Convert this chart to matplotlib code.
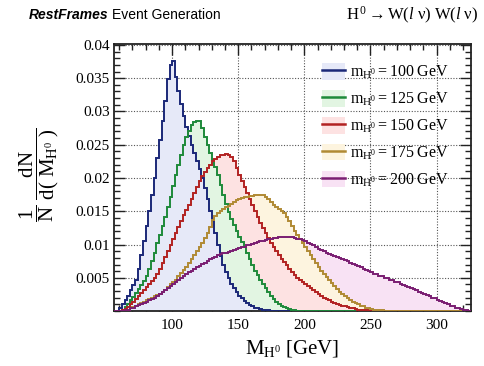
import numpy as np
import matplotlib
matplotlib.use("Agg")
import matplotlib.pyplot as plt
from matplotlib.patches import Patch
from matplotlib.lines import Line2D
from matplotlib.ticker import MultipleLocator

plt.rcParams['mathtext.fontset'] = 'custom'
plt.rcParams['mathtext.rm'] = 'Liberation Serif'
plt.rcParams['mathtext.it'] = 'Liberation Serif:italic'
plt.rcParams['mathtext.bf'] = 'Liberation Serif:bold'

x_min, x_max, n_bins = 56, 326, 135

masses = [100, 125, 150, 175, 200]

# bin contents, 2 GeV bins starting at 56 GeV (trailing bins are empty)
h100 = [0, 0, 0.0004, 0.0011, 0.0017, 0.0023, 0.0031, 0.0039, 0.0047, 0.0063,
        0.0085, 0.0105, 0.0128, 0.0150, 0.0175, 0.0200, 0.0230, 0.0257, 0.0285, 0.0316,
        0.0348, 0.0370, 0.0376, 0.0352, 0.0330, 0.0311, 0.0293, 0.0277, 0.0263, 0.0250,
        0.0238, 0.0226, 0.0213, 0.0200, 0.0185, 0.0168, 0.0151, 0.0135, 0.0117, 0.0100,
        0.0083, 0.0069, 0.0058, 0.0049, 0.0041, 0.0034, 0.0028, 0.0023, 0.0019, 0.0015,
        0.0012, 0.0009, 0.0007, 0.0005, 0.0004, 0.0003, 0.0002, 0.00015, 0.0001, 0.00005]

h125 = [0, 0, 0, 0.0002, 0.0006, 0.0011, 0.0016, 0.0021, 0.0027, 0.0033,
        0.0039, 0.0045, 0.0053, 0.0063, 0.0075, 0.0088, 0.0102, 0.0115, 0.0128, 0.0142,
        0.0156, 0.0172, 0.0188, 0.0205, 0.0220, 0.0235, 0.0249, 0.0261, 0.0271, 0.0279,
        0.0284, 0.0286, 0.0285, 0.0275, 0.0262, 0.0250, 0.0238, 0.0227, 0.0216, 0.0204,
        0.0190, 0.0175, 0.0161, 0.0149, 0.0139, 0.0130, 0.0121, 0.0112, 0.0104, 0.0096,
        0.0087, 0.0078, 0.0069, 0.0061, 0.0054, 0.0047, 0.0040, 0.0034, 0.0028, 0.0023,
        0.0018, 0.0014, 0.0011, 0.0008, 0.0006, 0.0004, 0.0003, 0.0002, 0.0001, 0.00005]

h150 = [0, 0, 0, 0.0001, 0.0003, 0.0006, 0.0010, 0.0014, 0.0018, 0.0023,
        0.0027, 0.0032, 0.0036, 0.0041, 0.0045, 0.0050, 0.0056, 0.0064, 0.0073, 0.0082,
        0.0091, 0.0100, 0.0108, 0.0117, 0.0126, 0.0135, 0.0144, 0.0152, 0.0160, 0.0168,
        0.0177, 0.0186, 0.0195, 0.0203, 0.0209, 0.0215, 0.0220, 0.0225, 0.0229, 0.0232,
        0.0234, 0.0235, 0.0236, 0.0235, 0.0232, 0.0225, 0.0215, 0.0205, 0.0196, 0.0187,
        0.0178, 0.0168, 0.0159, 0.0150, 0.0141, 0.0133, 0.0125, 0.0117, 0.0110, 0.0102,
        0.0096, 0.0090, 0.0084, 0.0079, 0.0074, 0.0069, 0.0064, 0.0059, 0.0054, 0.0050,
        0.0046, 0.0043, 0.0040, 0.0037, 0.0034, 0.0031, 0.0028, 0.0025, 0.0022, 0.0020,
        0.0018, 0.0016, 0.0014, 0.0012, 0.0011, 0.0009, 0.0008, 0.0007, 0.0006, 0.0005,
        0.0004, 0.0003, 0.0002, 0.0002, 0.0001, 0.0001]

h175 = [0, 0, 0, 0, 0.0001, 0.0002, 0.0004, 0.0006, 0.0008, 0.0010,
        0.0012, 0.0014, 0.0016, 0.0018, 0.0020, 0.0022, 0.0024, 0.0026, 0.0029, 0.0032,
        0.0036, 0.0040, 0.0043, 0.0047, 0.0052, 0.0057, 0.0062, 0.0067, 0.0072, 0.0078,
        0.0084, 0.0090, 0.0096, 0.0102, 0.0110, 0.0118, 0.0127, 0.0137, 0.0143, 0.0148,
        0.0151, 0.0154, 0.0156, 0.0158, 0.0161, 0.0164, 0.0167, 0.0169, 0.0170, 0.0171,
        0.0172, 0.0173, 0.0173, 0.0174, 0.0175, 0.0174, 0.0174, 0.0172, 0.0168, 0.0164,
        0.0160, 0.0157, 0.0154, 0.0151, 0.0147, 0.0141, 0.0135, 0.0128, 0.0121, 0.0115,
        0.0108, 0.0102, 0.0096, 0.0090, 0.0084, 0.0078, 0.0072, 0.0066, 0.0061, 0.0056,
        0.0051, 0.0046, 0.0042, 0.0037, 0.0033, 0.0029, 0.0026, 0.0023, 0.0020, 0.0017,
        0.0014, 0.0012, 0.0010, 0.0008, 0.0007, 0.0005, 0.0004, 0.0003, 0.0002, 0.0002,
        0.0001, 0.0001]

h200 = [0, 0, 0, 0, 0.0001, 0.0002, 0.0004, 0.0005, 0.0007, 0.0009,
        0.0010, 0.0012, 0.0014, 0.0016, 0.0018, 0.0020, 0.0022, 0.0025, 0.0028, 0.0031,
        0.0034, 0.0037, 0.0040, 0.0043, 0.0046, 0.0049, 0.0052, 0.0055, 0.0058, 0.0061,
        0.0063, 0.0066, 0.0068, 0.0071, 0.0073, 0.0075, 0.0078, 0.0080, 0.0082, 0.0084,
        0.0086, 0.0087, 0.0088, 0.0089, 0.0090, 0.0092, 0.0093, 0.0095, 0.0096, 0.0097,
        0.0099, 0.0100, 0.0101, 0.0103, 0.0104, 0.0105, 0.0106, 0.0107, 0.0108, 0.0109,
        0.0110, 0.0110, 0.0111, 0.0111, 0.0111, 0.0112, 0.0111, 0.0111, 0.0110, 0.0109,
        0.0108, 0.0107, 0.0105, 0.0103, 0.0101, 0.0099, 0.0097, 0.0094, 0.0092, 0.0090,
        0.0088, 0.0086, 0.0085, 0.0083, 0.0081, 0.0080, 0.0078, 0.0077, 0.0075, 0.0073,
        0.0071, 0.0070, 0.0068, 0.0066, 0.0064, 0.0062, 0.0060, 0.0058, 0.0056, 0.0055,
        0.0053, 0.0052, 0.0050, 0.0049, 0.0047, 0.0046, 0.0044, 0.0043, 0.0041, 0.0039,
        0.0038, 0.0036, 0.0034, 0.0033, 0.0031, 0.0029, 0.0027, 0.0026, 0.0024, 0.0022,
        0.0020, 0.0019, 0.0017, 0.0015, 0.0013, 0.0012, 0.0010, 0.0008, 0.0007, 0.0005,
        0.0004, 0.0003, 0.0002, 0.0001, 0.0]

series = [h100, h125, h150, h175, h200]
line_colors = ['#1b2878', '#1e8a3a', '#b22222', '#b08a34', '#7a1e72']
fill_colors = ['#e6e9f8', '#e2f5e2', '#fde2e2', '#fdf4df', '#f8e2f4']

x_ticks = [100, 150, 200, 250, 300]
y_ticks = [0.005, 0.01, 0.015, 0.02, 0.025, 0.03, 0.035, 0.04]
y_tick_labels = ['0.005', '0.01', '0.015', '0.02', '0.025', '0.03', '0.035', '0.04']

fig = plt.figure(figsize=(4.84, 3.66), dpi=100)
ax = fig.add_axes([0.2355, 0.150, 0.7375, 0.731])

edges = np.linspace(x_min, x_max, n_bins + 1)
padded = [np.array(list(v) + [0.0] * (n_bins - len(v)), dtype=float) for v in series]

# fills: last series first so the narrower distributions sit on top
for vals, fc in reversed(list(zip(padded, fill_colors))):
    ax.stairs(vals, edges, baseline=0, fill=True, color=fc, zorder=1)
handles = []
for vals, lc, fc in zip(padded, line_colors, fill_colors):
    ax.stairs(vals, edges, baseline=None, color=lc, linewidth=1.4, zorder=3)
    handles.append((Patch(facecolor=fc, edgecolor='none'), Line2D([], [], color=lc, lw=1.8)))

ax.set_xlim(x_min, x_max)
ax.set_ylim(0, 0.0402)
ax.set_xticks(x_ticks)
ax.set_xticklabels([str(t) for t in x_ticks])
ax.set_yticks(y_ticks)
ax.set_yticklabels(y_tick_labels)
ax.xaxis.set_minor_locator(MultipleLocator(10))
ax.yaxis.set_minor_locator(MultipleLocator(0.001))
ax.tick_params(which='both', direction='in', top=True, right=True, width=1.0, color='#222222')
ax.tick_params(which='major', length=8)
ax.tick_params(which='minor', length=4)
ax.tick_params(labelsize=11)
for lab in ax.get_xticklabels() + ax.get_yticklabels():
    lab.set_fontfamily('Liberation Serif')
ax.tick_params(axis='x', pad=6)
ax.tick_params(axis='y', pad=3)
for s in ax.spines.values():
    s.set_linewidth(1.3)
    s.set_color('#222222')
ax.grid(True, which='major', linestyle=(0, (1, 1.5)), color='#555555', linewidth=0.8, zorder=0)
ax.set_axisbelow(True)

labels = [r'$\mathrm{m_{H^{0}} = %d\ GeV}$' % m for m in masses]
leg = ax.legend(handles, labels, loc='upper right', frameon=False, fontsize=11.5,
                handlelength=1.4, handleheight=1.2, labelspacing=0.56,
                bbox_to_anchor=(0.955, 0.95), handletextpad=0.3, borderaxespad=0.0)

ax.set_xlabel(r'$\mathrm{M_{H^{0}}\ [GeV]}$', fontsize=15, labelpad=4)
fig.text(39 / 484, 1 - 175 / 366, r'$\mathrm{\dfrac{1}{N}\ \dfrac{dN}{d(\ M_{H^{0}}\ )}}$',
         fontsize=15, rotation=90, ha='center', va='center')

t1 = fig.text(29 / 484, 0.958, 'RestFrames', fontsize=10, fontweight='bold', fontstyle='italic',
              family='Liberation Sans', va='center', ha='left')
fig.canvas.draw()
bb = t1.get_window_extent(renderer=fig.canvas.get_renderer())
fig.text((bb.x1 + 3) / fig.bbox.width, 0.958, 'Event Generation', fontsize=10,
         family='Liberation Sans', va='center', ha='left')
fig.text(0.988, 0.958, r'$\mathrm{H^{\,0} \rightarrow W(}\mathit{l}\mathrm{\ \nu)\ W(}\mathit{l}\mathrm{\ \nu)}$',
         fontsize=12, va='center', ha='right')

fig.savefig('out.png', dpi=100)
